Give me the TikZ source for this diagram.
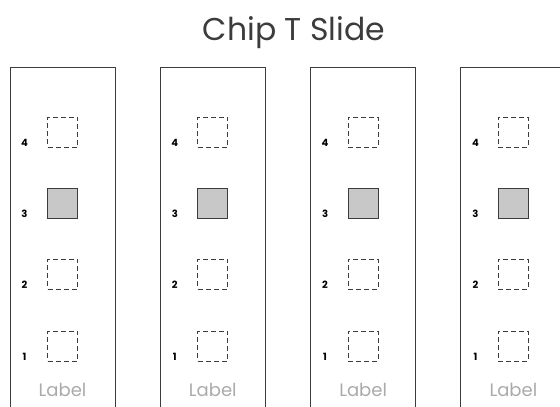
\documentclass[tikz,border=0pt]{standalone}
\usepackage{fontspec}
\setmainfont{Poppins}
\usetikzlibrary{positioning}
\definecolor{inkgray}{HTML}{3C3C3C}
\definecolor{chipfill}{HTML}{C8C8C8}
\definecolor{labelgray}{HTML}{AAAAAA}
\tikzset{panel/.style={draw=inkgray, line width=1pt},
  chip/.style={draw=inkgray, line width=1pt, minimum size=30pt, inner sep=0pt},
  empty/.style={chip, dash pattern=on 5pt off 3pt},
  filled/.style={chip, fill=chipfill},
  slot/.style={font=\fontsize{10}{10}\selectfont\bfseries, text=black, inner sep=0pt, anchor=base},
  caption/.style={font=\fontsize{18}{18}\selectfont, text=labelgray, inner sep=0pt, anchor=base}}

\begin{document}
\begin{tikzpicture}[x=1pt,y=-1pt]
   \useasboundingbox (0,0) rectangle (560,407);
   \clip (0,0) rectangle (560,407);
   \node[font=\fontsize{31.5}{31.5}\selectfont, text=inkgray, inner sep=0pt, anchor=base] (title) at (294,40) {Chip T Slide};
   \foreach \i in {0,1,2,3} {
    \begin{scope}[xshift=150.3*\i]
     \draw[panel] (10,420) |- (115,67) -- (115,420);
     \node[empty] (s4-\i) at (62.5,132) {};
     \node[filled] (s3-\i) at (62.5,203) {};
     \node[empty] (s2-\i) at (62.5,274) {};
     \node[empty] (s1-\i) at (62.5,346) {};
     \node[slot] (n4-\i) at (24.5,146.5) {4};
     \node[slot] (n3-\i) at (24.5,217.5) {3};
     \node[slot] (n2-\i) at (24.5,288.5) {2};
     \node[slot] (n1-\i) at (24.5,360.5) {1};
     \node[caption] (lab-\i) at (62.5,396) {Label};
    \end{scope}
   }
\end{tikzpicture}
\end{document}
